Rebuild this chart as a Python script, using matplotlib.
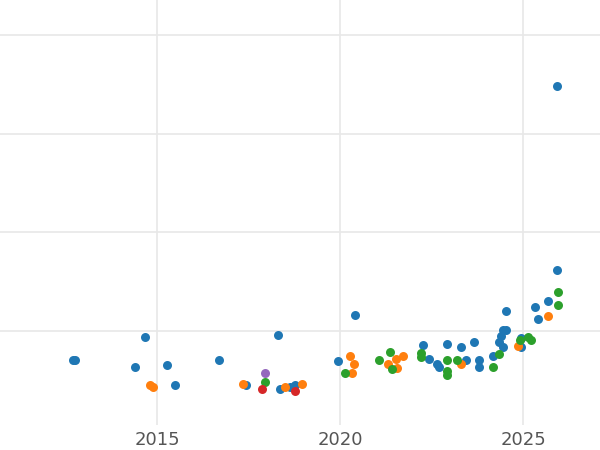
import matplotlib
matplotlib.use("Agg")
import matplotlib.pyplot as plt

blue_x = [2012.70, 2012.76, 2014.40, 2014.67, 2015.27, 2015.49, 2016.69, 2017.43, 2018.31, 2018.36,
          2018.63, 2018.77, 2019.95, 2020.42, 2022.27, 2022.43, 2022.65, 2022.71, 2022.92, 2023.31,
          2023.44, 2023.66, 2023.80, 2023.80, 2024.18, 2024.34, 2024.40, 2024.45, 2024.54, 2024.54,
          2024.45, 2024.95, 2024.95, 2025.33, 2025.41, 2025.68, 2025.93, 2025.93]
blue_y = [0.70, 0.70, 0.63, 0.94, 0.65, 0.45, 0.70, 0.45, 0.96, 0.41,
          0.43, 0.45, 0.69, 1.16, 0.86, 0.71, 0.66, 0.63, 0.87, 0.83,
          0.70, 0.89, 0.70, 0.63, 0.74, 0.89, 0.95, 1.01, 1.01, 1.20,
          0.84, 0.84, 0.93, 1.24, 1.12, 1.30, 1.62, 3.49]
orange_x = [2014.81, 2014.89, 2017.35, 2018.50, 2018.96, 2020.27, 2020.38, 2020.33, 2021.31, 2021.53,
            2021.56, 2021.72, 2023.31, 2024.86, 2025.68]
orange_y = [0.45, 0.43, 0.46, 0.43, 0.46, 0.74, 0.66, 0.57, 0.66, 0.71,
            0.62, 0.74, 0.66, 0.85, 1.15]
green_x = [2017.95, 2020.14, 2021.07, 2021.37, 2021.42, 2022.21, 2022.21, 2022.92, 2022.92, 2022.92,
           2023.20, 2024.18, 2024.34, 2024.92, 2025.14, 2025.22, 2025.96, 2025.96]
green_y = [0.48, 0.57, 0.70, 0.78, 0.61, 0.77, 0.73, 0.59, 0.55, 0.70,
           0.70, 0.63, 0.76, 0.91, 0.94, 0.91, 1.39, 1.26]
red_x = [2017.87, 2018.77]
red_y = [0.41, 0.39]
purple_x = [2017.95]
purple_y = [0.57]

fig = plt.figure(figsize=(6, 4.5), dpi=100)
ax = fig.add_axes([0, 0.055, 1, 0.945])
series = [(blue_x, blue_y, "#1f77b4"), (orange_x, orange_y, "#ff7f0e"),
          (green_x, green_y, "#2ca02c"), (red_x, red_y, "#d62728"),
          (purple_x, purple_y, "#9467bd")]
for xs, ys, c in series:
    ax.scatter(xs, ys, s=42, color=c, linewidths=0, zorder=3)

ax.set_xlim(2010.71, 2027.1)
ax.set_ylim(0.04, 4.36)
ax.set_xticks([2015, 2020, 2025])
ax.set_yticks([1, 2, 3, 4])
ax.tick_params(axis="y", left=False, labelleft=False)
ax.tick_params(axis="x", length=0, labelsize=13, labelcolor="#555555", pad=4)
ax.grid(True, color="#e8e8e8", linewidth=1.2)
ax.set_axisbelow(True)
for s in ax.spines.values():
    s.set_visible(False)

fig.savefig("out.png", dpi=100)
